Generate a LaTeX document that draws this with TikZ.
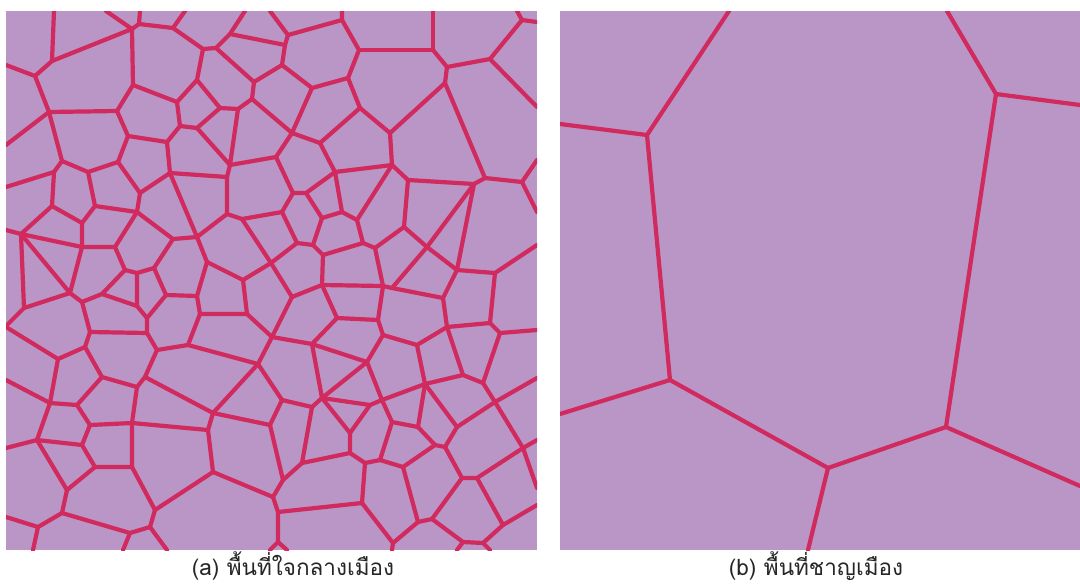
\documentclass[tikz,border=0pt]{standalone}
\usepackage{fontspec}
\newfontfamily\thaifont[Script=Thai]{Loma}
\usepackage{tikz}
\usetikzlibrary{positioning}
\definecolor{cellfill}{HTML}{B996C6}
\definecolor{wallred}{HTML}{D12A5E}
\tikzset{
  panel/.style={fill=cellfill,draw=none},
  wall/.style={draw=wallred,line width=1.05mm,line cap=round,line join=round},
  caption/.style={font=\thaifont\fontsize{16}{19}\selectfont,text=black!85,inner sep=0pt},
}

\begin{document}
\begin{tikzpicture}[x=0.25mm,y=-0.25mm]
\useasboundingbox (0,0) rectangle (1080,586);
% (a) dense cells
\fill[panel] (6,11) rectangle (537,550);
\begin{scope}
\clip (6,11) rectangle (537,550);
% top left
\draw[wall] (54,11)--(52,61)--(35,76)--(6,65);
\draw[wall] (52,61)--(132,29)--(106,11);
\draw[wall] (132,29)--(139,24)--(140,11);
\draw[wall] (139,24)--(173,28)--(185,11);
\draw[wall] (173,28)--(203,49)--(216,48)--(230,34)--(245,11);
\draw[wall] (230,34)--(285,45);
\draw[wall] (216,48)--(254,82)--(282,65);
\draw[wall] (254,82)--(252,99)--(238,109)--(220,108)--(197,80)--(203,49);
\draw[wall] (252,99)--(292,133);
\draw[wall] (197,80)--(177,102)--(133,85)--(132,29);
\draw[wall] (133,85)--(117,111)--(49,112)--(35,76);
\draw[wall] (49,112)--(6,145);
\draw[wall] (49,112)--(62,161)--(54,172)--(6,187);
\draw[wall] (117,111)--(128,136)--(167,142)--(180,126)--(177,102);
\draw[wall] (180,126)--(197,128)--(220,108);
\draw[wall] (197,128)--(230,165)--(238,109);
\draw[wall] (230,165)--(227,177)--(170,173)--(167,142);
\draw[wall] (230,165)--(276,157);
\draw[wall] (128,136)--(118,162)--(88,172)--(62,161);
\draw[wall] (118,162)--(140,193)--(170,173);
\draw[wall] (88,172)--(95,206)--(82,223)--(52,206)--(54,172);
\draw[wall] (95,206)--(137,212)--(140,193);
\draw[wall] (137,212)--(173,239)--(197,237)--(170,173);
\draw[wall] (197,237)--(227,214)--(227,177);
\draw[wall] (227,214)--(242,219)--(282,212);
\draw[wall] (242,219)--(271,263);
\draw[wall] (52,206)--(21,234)--(6,230);
\draw[wall] (82,223)--(82,247)--(21,234);
\draw[wall] (137,212)--(115,247)--(82,247);
\draw[wall] (197,237)--(207,262);
\draw[wall] (173,239)--(154,268);
% top right
\draw[wall] (270,11)--(288,35)--(342,20)--(342,11);
\draw[wall] (288,35)--(285,45)--(282,65)--(312,88)--(348,78)--(359,50)--(342,20);
\draw[wall] (359,50)--(433,50)--(433,11);
\draw[wall] (433,50)--(447,67)--(490,59)--(522,20)--(517,11);
\draw[wall] (522,20)--(537,22);
\draw[wall] (490,59)--(537,107);
\draw[wall] (447,67)--(445,83)--(485,178)--(522,182);
\draw[wall] (445,83)--(390,133)--(360,108)--(348,78);
\draw[wall] (360,108)--(320,143)--(292,133)--(312,88);
\draw[wall] (292,133)--(276,157)--(293,193)--(306,193)--(335,172)--(320,143);
\draw[wall] (390,133)--(392,165)--(335,172);
\draw[wall] (392,165)--(408,180)--(474,184)--(485,178);
\draw[wall] (392,165)--(357,220)--(342,212)--(335,172);
\draw[wall] (306,193)--(322,218)--(342,212);
\draw[wall] (293,193)--(282,212)--(297,243)--(313,245)--(322,218);
\draw[wall] (313,245)--(323,255)--(363,243)--(357,220);
\draw[wall] (363,243)--(375,248)--(404,227)--(408,180);
\draw[wall] (404,227)--(427,247)--(474,184);
\draw[wall] (474,184)--(457,270)--(427,247);
\draw[wall] (522,182)--(537,160);
\draw[wall] (522,182)--(537,212);
\draw[wall] (457,270)--(495,273)--(537,245);
\draw[wall] (297,243)--(271,263);
\draw[wall] (323,255)--(322,285);
% middle left
\draw[wall] (21,234)--(24,308)--(6,326);
\draw[wall] (21,234)--(70,293)--(24,308);
\draw[wall] (82,247)--(70,293)--(82,302)--(102,294)--(125,270)--(115,247);
\draw[wall] (125,270)--(137,273)--(154,268);
\draw[wall] (154,268)--(166,295)--(147,318)--(137,306)--(137,273);
\draw[wall] (137,306)--(102,294);
\draw[wall] (166,295)--(197,296)--(207,262);
\draw[wall] (207,262)--(243,280)--(271,263);
\draw[wall] (197,296)--(200,314)--(247,314)--(243,280);
\draw[wall] (247,314)--(272,337)--(292,297);
\draw[wall] (82,302)--(90,332)--(147,333)--(147,318);
\draw[wall] (90,332)--(85,347)--(58,359)--(6,327);
\draw[wall] (85,347)--(102,377)--(137,387)--(145,377)--(157,350)--(147,333);
\draw[wall] (157,350)--(188,345)--(200,314);
\draw[wall] (188,345)--(258,364)--(272,337);
\draw[wall] (258,364)--(213,413)--(145,377);
\draw[wall] (258,364)--(282,400);
\draw[wall] (271,263)--(292,297);
% bottom left
\draw[wall] (58,359)--(50,403)--(6,380);
\draw[wall] (50,403)--(77,405)--(102,377);
\draw[wall] (77,405)--(90,425)--(132,423)--(137,387);
\draw[wall] (132,423)--(208,430)--(213,413);
\draw[wall] (208,430)--(213,472)--(273,497);
\draw[wall] (132,423)--(132,467)--(155,510)--(213,472);
\draw[wall] (90,425)--(82,445)--(37,440)--(50,403);
\draw[wall] (37,440)--(6,448);
\draw[wall] (82,445)--(95,467)--(132,467);
\draw[wall] (95,467)--(67,490)--(37,440);
\draw[wall] (67,490)--(62,513)--(38,527)--(6,517);
\draw[wall] (38,527)--(33,550);
\draw[wall] (62,513)--(130,533)--(150,527)--(155,510);
\draw[wall] (130,533)--(123,550);
\draw[wall] (150,527)--(167,550);
% middle right
\draw[wall] (322,285)--(383,286)--(375,248);
\draw[wall] (383,286)--(392,288)--(427,247);
\draw[wall] (392,288)--(443,298)--(457,270);
\draw[wall] (322,285)--(292,297);
\draw[wall] (322,285)--(337,318)--(378,320)--(383,286);
\draw[wall] (337,318)--(312,344)--(272,337);
\draw[wall] (378,320)--(383,335)--(417,345)--(447,327)--(443,298);
\draw[wall] (447,327)--(490,323)--(495,273);
\draw[wall] (490,323)--(500,333)--(537,330);
\draw[wall] (500,333)--(483,383)--(463,375)--(425,384)--(417,345);
\draw[wall] (447,327)--(463,375);
\draw[wall] (383,335)--(367,362)--(312,344);
\draw[wall] (312,344)--(322,398)--(367,362);
\draw[wall] (367,362)--(382,400)--(425,384);
\draw[wall] (322,398)--(312,407)--(282,400)--(270,425);
\draw[wall] (322,398)--(370,405)--(382,400);
\draw[wall] (322,398)--(350,433)--(370,405);
\draw[wall] (312,407)--(302,463)--(350,453)--(350,433);
\draw[wall] (382,400)--(392,422)--(380,460)--(365,463)--(350,453);
\draw[wall] (425,384)--(418,427)--(392,422);
\draw[wall] (418,427)--(435,445)--(403,467)--(380,460);
\draw[wall] (435,445)--(445,447)--(457,427)--(425,384);
\draw[wall] (302,463)--(283,480)--(270,425);
\draw[wall] (283,480)--(273,497);
\draw[wall] (270,425)--(213,413);
% bottom right
\draw[wall] (483,383)--(495,402)--(537,378);
\draw[wall] (495,402)--(523,448)--(537,440);
\draw[wall] (523,448)--(537,488);
\draw[wall] (495,402)--(457,427);
\draw[wall] (523,448)--(477,478)--(462,478)--(445,447);
\draw[wall] (462,478)--(432,519)--(418,522)--(403,467);
\draw[wall] (477,478)--(503,525)--(537,505);
\draw[wall] (503,525)--(483,543)--(463,542)--(432,519);
\draw[wall] (483,543)--(490,550);
\draw[wall] (463,542)--(457,550);
\draw[wall] (418,522)--(393,543)--(362,503);
\draw[wall] (393,543)--(392,550);
\draw[wall] (365,463)--(362,503)--(278,512)--(273,497);
\draw[wall] (278,512)--(278,542)--(270,550);
\draw[wall] (278,542)--(287,550);
\end{scope}
% (b) sparse cells
\fill[panel] (560,11) rectangle (1080,550);
\begin{scope}
\clip (560,11) rectangle (1080,550);
\draw[wall] (560,124)--(647,135)--(729,11);
\draw[wall] (647,135)--(670,380)--(560,414);
\draw[wall] (670,380)--(828,468)--(808,550);
\draw[wall] (828,468)--(946,427)--(1080,486);
\draw[wall] (946,427)--(996,94)--(947,11);
\draw[wall] (996,94)--(1080,105);
\end{scope}
\node[caption] (capa) at (293,566) {(a) พื้นที่ใจกลางเมือง};
\node[caption] (capb) at (816,566) {(b) พื้นที่ชาญเมือง};
\end{tikzpicture}
\end{document}
